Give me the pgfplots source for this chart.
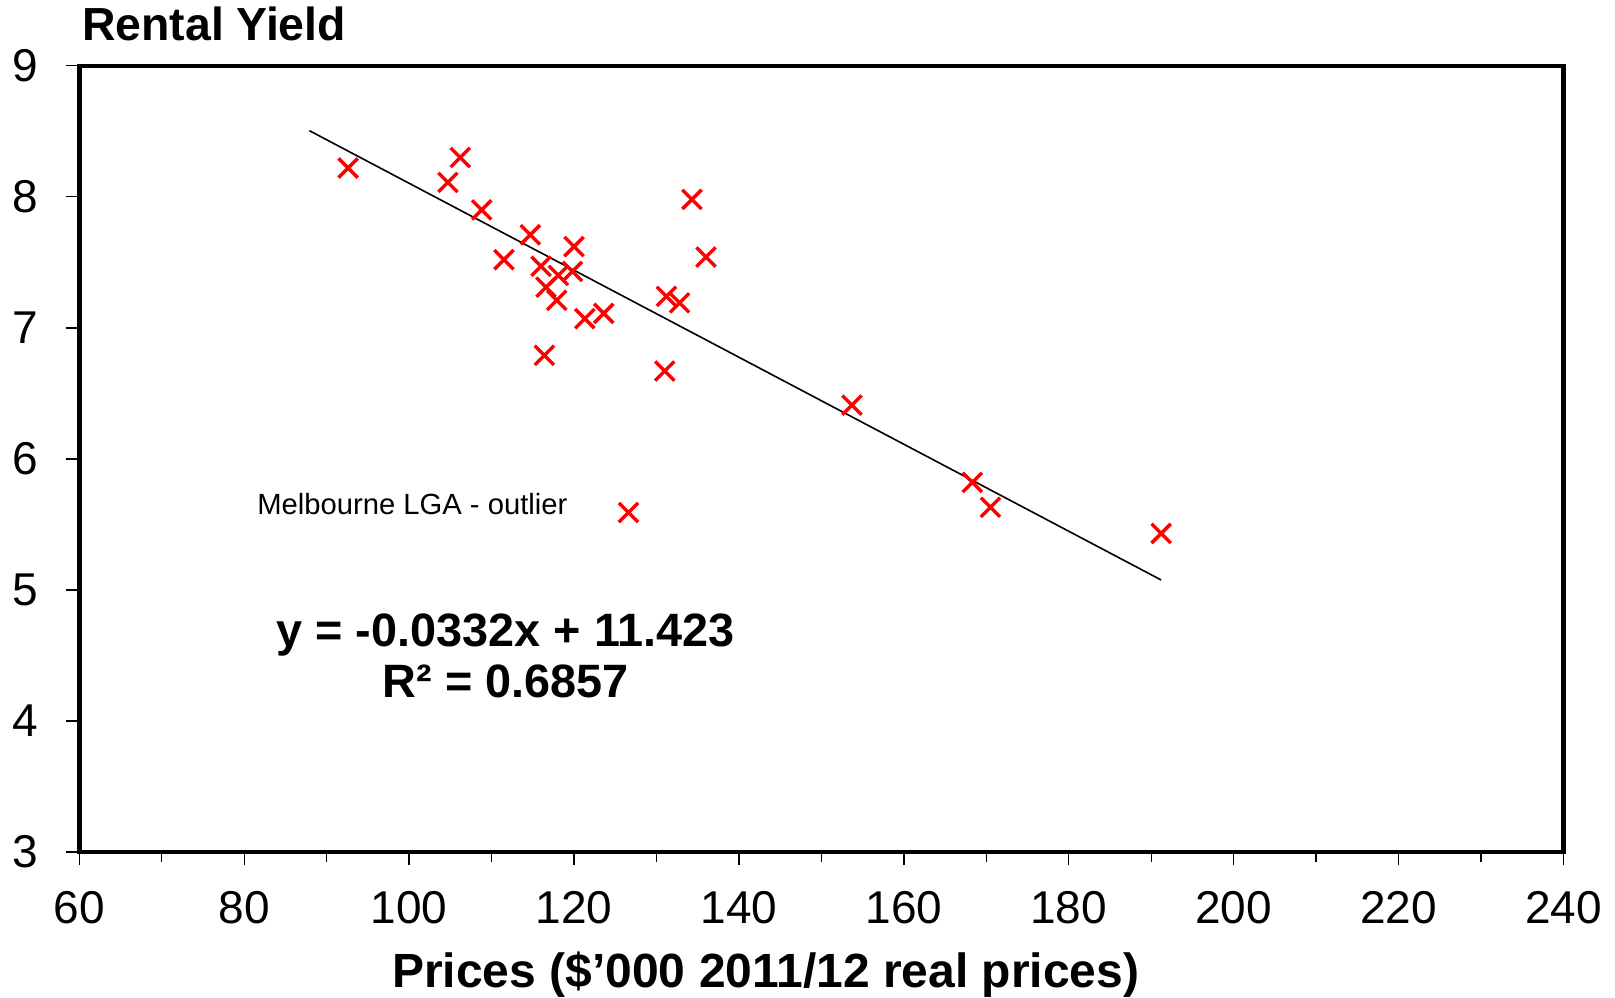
\documentclass[border=0pt]{standalone}
\usepackage{fontspec}
\setmainfont{Liberation Sans}
\usepackage{pgfplots}
\pgfplotsset{compat=1.18}
\begin{document}
\begin{tikzpicture}
\begin{axis}[
  scale only axis,
  width=371.05pt, height=196.5pt,
  xmin=60, xmax=240, ymin=3, ymax=9,
  xtick={60,80,...,240}, ytick={3,4,...,9},
  minor x tick num=1,
  tick pos=left, tick align=outside,
  major tick length=3.4pt, minor tick length=2.5pt,
  tick style={black, line width=0.35pt},
  axis line style={black, line width=1.1pt},
  /pgf/number format/assume math mode=true,
  ticklabel style={font=\fontsize{11.5}{13}\selectfont},
  xticklabel style={yshift=-3.0pt},
  yticklabel style={xshift=-3.4pt},
  clip=false,
]
\addplot[black, line width=0.4pt] coordinates {(87.9,8.505) (191.2,5.075)};
\addplot[only marks, mark=x, mark size=3.4pt, red, mark options={line width=0.85pt}] coordinates {
(92.6,8.22) (106.2,8.30) (104.7,8.11) (108.8,7.90) (114.7,7.71) (111.5,7.52)
(120.0,7.62) (116.0,7.47) (119.8,7.43) (118.1,7.40) (116.6,7.31) (117.9,7.21)
(121.3,7.07) (123.6,7.11) (131.2,7.24) (132.8,7.19) (134.3,7.98) (136.0,7.54)
(116.4,6.79) (131.0,6.67) (126.6,5.59) (153.7,6.41) (168.3,5.82) (170.5,5.63)
(191.2,5.43)
};
\node[anchor=base, font=\bfseries\fontsize{11.7}{13}\selectfont, inner sep=0pt] at (axis cs:111.7,4.564) {y = -0.0332x + 11.423};
\node[anchor=base, font=\bfseries\fontsize{11.7}{13}\selectfont, inner sep=0pt] at (axis cs:111.7,4.175) {R² = 0.6857};
\node[anchor=base west, font=\fontsize{7.3}{9}\selectfont, inner sep=0pt] at (axis cs:81.5,5.572) {Melbourne LGA - outlier};
\node[anchor=base west, font=\bfseries\fontsize{11.6}{13}\selectfont, inner sep=0pt] at ([xshift=0.5pt, yshift=6.2pt]rel axis cs:0,1) {Rental Yield};
\node[anchor=base, font=\bfseries\fontsize{12}{14}\selectfont, inner sep=0pt] at ([xshift=-13.9pt, yshift=-33.8pt]rel axis cs:0.5,0) {Prices (\$’000 2011/12 real prices)};
\end{axis}
\pgfresetboundingbox
\useasboundingbox (-19.83pt,-36.3pt) rectangle (383.92pt,212.95pt);
\end{tikzpicture}
\end{document}
